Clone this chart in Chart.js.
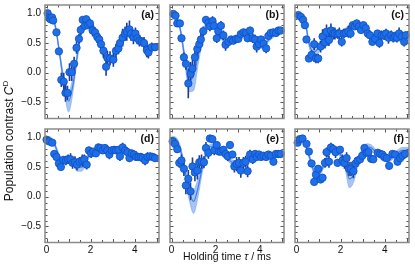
<!DOCTYPE html>
<html lang="en">
<head>
<meta charset="UTF-8">
<title>Population contrast</title>
<script src="https://cdn.jsdelivr.net/npm/chart.js@4.4.1/dist/chart.umd.min.js"></script>
<style>
    body { margin: 0; background: #fff; }
    #wrap { position: relative; width: 415px; height: 276px; background: #fff; font-family: 'Liberation Sans', Arial, sans-serif; }
    #wrap canvas { position: absolute; left: 0; top: 0; }
    .lab { position: absolute; font-weight: bold; font-size: 10.5px; line-height: 12px; text-align: right; width: 30px; color: #111; }
    #ytitle { position: absolute; left: -94px; top: 134px; width: 200px; height: 14px; line-height: 14px; font-size: 12px; text-align: center; transform: rotate(-90deg); color: #111; }
    #xtitle { position: absolute; left: 127px; top: 249px; width: 200px; height: 14px; line-height: 14px; font-size: 10.5px; text-align: center; color: #111; }
</style>
</head>
<body>
<div id="wrap">
    <canvas id="pa" width="415" height="276"></canvas>
    <canvas id="pb" width="415" height="276"></canvas>
    <canvas id="pc" width="415" height="276"></canvas>
    <canvas id="pd" width="415" height="276"></canvas>
    <canvas id="pe" width="415" height="276"></canvas>
    <canvas id="pf" width="415" height="276"></canvas>
    <div id="ytitle">Population contrast <i>C</i><sup style="font-size:8px">D</sup></div>
    <div id="xtitle">Holding time <i>τ</i> / ms</div>
</div>

<script>
// measured points (holding time in ms, contrast, error)
var tA = [0.05,0.12,0.18,0.25,0.3,0.45,0.56,0.67,0.78,0.86,0.95,1.04,1.14,1.25,1.36,1.47,1.55,1.64,1.74,1.8,1.88,1.97,2.09,2.2,2.3,2.39,2.47,2.58,2.7,2.76,2.88,3.03,3.15,3.26,3.33,3.45,3.56,3.64,3.76,3.83,3.94,4.03,4.12,4.21,4.32,4.42,4.55,4.62,4.77,4.92]
var yA = [1.0,0.92,0.9,0.93,0.88,0.68,0.36,-0.12,-0.15,-0.34,-0.34,0.01,0.01,0.15,0.42,0.57,0.72,0.89,0.79,0.9,0.8,0.83,0.71,0.68,0.6,0.56,0.48,0.37,0.1,0.25,0.24,0.22,0.37,0.41,0.5,0.59,0.66,0.69,0.73,0.66,0.6,0.66,0.58,0.54,0.52,0.5,0.38,0.34,0.43,0.43]
var eA = [0.05,0.05,0.06,0.06,0.06,0.05,0.05,0.12,0.15,0.15,0.12,0.15,0.15,0.12,0.1,0.08,0.08,0.05,0.06,0.06,0.06,0.08,0.1,0.08,0.1,0.1,0.1,0.12,0.15,0.12,0.12,0.12,0.12,0.1,0.12,0.15,0.12,0.15,0.15,0.12,0.12,0.1,0.1,0.1,0.08,0.1,0.12,0.1,0.08,0.06]

var tB = [0.08,0.18,0.26,0.38,0.45,0.56,0.65,0.76,0.86,0.95,1.06,1.17,1.26,1.33,1.44,1.56,1.67,1.74,1.86,1.92,2.05,2.12,2.24,2.35,2.45,2.58,2.7,2.8,2.92,3.03,3.14,3.26,3.38,3.45,3.56,3.68,3.79,3.86,3.97,4.06,4.17,4.29,4.39,4.5,4.62,4.74,4.85,4.95]
var yB = [0.99,0.96,0.83,0.83,0.58,0.26,0.15,-0.18,-0.02,0.07,0.26,0.4,0.48,0.56,0.7,0.89,0.84,0.78,0.87,0.79,0.58,0.7,0.79,0.63,0.47,0.52,0.56,0.54,0.57,0.57,0.65,0.68,0.67,0.58,0.71,0.58,0.56,0.44,0.48,0.56,0.49,0.41,0.62,0.67,0.68,0.67,0.71,0.71]
var eB = [0.04,0.05,0.06,0.06,0.06,0.08,0.1,0.25,0.2,0.15,0.15,0.12,0.12,0.1,0.08,0.06,0.08,0.08,0.08,0.06,0.08,0.08,0.08,0.08,0.1,0.06,0.06,0.06,0.06,0.06,0.06,0.06,0.06,0.06,0.06,0.08,0.08,0.1,0.08,0.06,0.08,0.08,0.06,0.06,0.06,0.06,0.06,0.06]

var tC = [0.08,0.2,0.3,0.38,0.45,0.56,0.68,0.8,0.88,0.98,1.09,1.18,1.29,1.36,1.47,1.56,1.67,1.74,1.86,1.94,2.05,2.15,2.24,2.35,2.45,2.55,2.65,2.73,2.83,2.92,3.03,3.14,3.23,3.33,3.44,3.56,3.67,3.76,3.86,3.97,4.06,4.17,4.29,4.39,4.47,4.55,4.65,4.77,4.88,4.95]
var yC = [0.97,0.94,0.89,0.8,0.56,0.24,0.3,0.48,0.24,0.24,0.44,0.61,0.51,0.69,0.55,0.71,0.66,0.66,0.65,0.66,0.52,0.66,0.67,0.69,0.66,0.8,0.78,0.83,0.78,0.72,0.8,0.75,0.66,0.63,0.52,0.57,0.66,0.5,0.63,0.63,0.66,0.59,0.63,0.59,0.61,0.59,0.66,0.61,0.52,0.63]
var eC = [0.04,0.04,0.05,0.05,0.05,0.06,0.08,0.1,0.08,0.08,0.1,0.12,0.1,0.12,0.1,0.12,0.1,0.1,0.08,0.1,0.08,0.08,0.06,0.1,0.08,0.06,0.06,0.06,0.06,0.06,0.06,0.06,0.06,0.06,0.06,0.06,0.06,0.08,0.08,0.08,0.08,0.1,0.08,0.08,0.08,0.08,0.1,0.08,0.08,0.06]

var tD = [0.0,0.12,0.26,0.35,0.45,0.56,0.65,0.76,0.88,0.98,1.09,1.18,1.29,1.38,1.5,1.62,1.71,1.82,1.92,2.02,2.12,2.24,2.35,2.45,2.55,2.65,2.76,2.85,2.95,3.06,3.15,3.26,3.33,3.45,3.56,3.67,3.76,3.86,3.97,4.06,4.17,4.27,4.36,4.47,4.58,4.7,4.82,4.92]
var yD = [0.96,0.93,0.91,0.72,0.67,0.56,0.5,0.62,0.61,0.63,0.63,0.57,0.58,0.54,0.59,0.61,0.63,0.54,0.78,0.73,0.76,0.73,0.83,0.82,0.78,0.82,0.78,0.71,0.78,0.79,0.78,0.79,0.68,0.83,0.78,0.75,0.65,0.73,0.71,0.67,0.67,0.67,0.65,0.61,0.67,0.68,0.67,0.65]
var eD = [0.04,0.05,0.05,0.06,0.06,0.06,0.05,0.06,0.08,0.08,0.1,0.1,0.1,0.1,0.08,0.1,0.08,0.08,0.06,0.08,0.06,0.06,0.06,0.06,0.06,0.06,0.06,0.08,0.06,0.06,0.06,0.06,0.08,0.08,0.06,0.06,0.06,0.06,0.06,0.06,0.06,0.06,0.06,0.08,0.08,0.06,0.06,0.06]

var tE = [0.05,0.15,0.26,0.35,0.45,0.56,0.65,0.76,0.86,0.95,1.06,1.17,1.26,1.36,1.47,1.56,1.67,1.74,1.85,1.94,2.05,2.15,2.24,2.35,2.45,2.55,2.65,2.76,2.85,2.95,3.06,3.14,3.26,3.36,3.45,3.56,3.68,3.79,3.86,3.97,4.06,4.17,4.29,4.39,4.5,4.62,4.73,4.85,4.95]
var yE = [0.93,0.89,0.8,0.57,0.61,0.47,0.19,0.3,0.09,0.51,0.41,0.44,0.58,0.59,0.58,0.82,0.74,0.98,0.97,0.78,0.87,0.76,0.76,0.79,0.72,0.68,0.87,0.71,0.51,0.55,0.57,0.44,0.57,0.59,0.43,0.71,0.63,0.72,0.67,0.71,0.67,0.69,0.67,0.71,0.69,0.59,0.72,0.72,0.72]
var eE = [0.04,0.05,0.06,0.08,0.1,0.12,0.15,0.15,0.15,0.15,0.15,0.15,0.12,0.12,0.1,0.1,0.1,0.06,0.06,0.08,0.06,0.06,0.06,0.06,0.06,0.08,0.06,0.06,0.1,0.12,0.1,0.12,0.1,0.1,0.1,0.08,0.08,0.06,0.06,0.06,0.06,0.06,0.06,0.06,0.06,0.06,0.06,0.06,0.06]

var tF = [0.05,0.15,0.27,0.45,0.56,0.68,0.8,0.88,0.98,1.09,1.18,1.29,1.36,1.47,1.56,1.67,1.77,1.86,1.97,2.08,2.17,2.27,2.38,2.47,2.58,2.68,2.77,2.88,2.98,3.08,3.18,3.26,3.38,3.48,3.68,3.79,3.89,3.98,4.09,4.2,4.35,4.47,4.58,4.7,4.8,4.92]
var yF = [0.91,0.97,0.98,0.89,0.76,0.56,0.25,0.37,0.47,0.29,0.32,0.57,0.75,0.59,0.83,0.8,0.75,0.57,0.79,0.61,0.57,0.65,0.47,0.47,0.43,0.56,0.61,0.63,0.69,0.82,0.74,0.75,0.64,0.63,0.74,0.72,0.71,0.67,0.65,0.52,0.72,0.71,0.59,0.65,0.69,0.72]
var eF = [0.04,0.04,0.04,0.05,0.05,0.06,0.06,0.06,0.06,0.06,0.06,0.08,0.08,0.1,0.08,0.08,0.1,0.06,0.06,0.1,0.1,0.1,0.12,0.12,0.12,0.06,0.06,0.06,0.06,0.06,0.06,0.06,0.06,0.06,0.06,0.06,0.06,0.06,0.06,0.06,0.06,0.06,0.06,0.06,0.06,0.06]

// theory curve: centre and half width of the shaded band
var thT = [0,0.2,0.4,0.6,0.8,1.0,1.2,1.4,1.6,1.8,2.0,2.2,2.4,2.6,2.8,3.0,3.2,3.4,3.6,3.8,4.0,4.2,4.4,4.6,4.8,5.0,5.2]
var thMidA = [1.0,0.97,0.78,0.3,-0.2,-0.48,-0.2,0.3,0.72,0.88,0.85,0.72,0.5,0.3,0.2,0.25,0.38,0.55,0.66,0.7,0.66,0.58,0.5,0.44,0.43,0.46,0.48]
var thWidA = [0.02,0.02,0.03,0.05,0.1,0.18,0.12,0.06,0.04,0.03,0.03,0.04,0.05,0.06,0.06,0.05,0.04,0.04,0.03,0.03,0.03,0.03,0.03,0.03,0.03,0.03,0.03]
var thMidB = [1.0,0.95,0.72,0.25,-0.12,-0.05,0.28,0.6,0.82,0.85,0.75,0.63,0.53,0.5,0.53,0.58,0.63,0.64,0.6,0.5,0.45,0.47,0.55,0.62,0.67,0.72,0.73]
var thWidB = [0.02,0.02,0.04,0.08,0.2,0.25,0.15,0.08,0.04,0.03,0.03,0.03,0.04,0.04,0.03,0.03,0.03,0.03,0.03,0.04,0.04,0.04,0.03,0.03,0.03,0.03,0.03]
var thMidC = [1.0,0.97,0.82,0.45,0.35,0.42,0.52,0.6,0.64,0.66,0.68,0.72,0.77,0.8,0.8,0.75,0.68,0.62,0.6,0.6,0.62,0.63,0.62,0.6,0.58,0.6,0.6]
var thWidC = [0.02,0.02,0.03,0.06,0.08,0.08,0.07,0.06,0.04,0.03,0.03,0.03,0.03,0.03,0.03,0.03,0.03,0.03,0.03,0.03,0.03,0.04,0.05,0.06,0.06,0.05,0.05]
var thMidD = [1.0,0.98,0.85,0.65,0.58,0.6,0.57,0.5,0.5,0.62,0.72,0.77,0.8,0.8,0.79,0.78,0.77,0.76,0.74,0.71,0.69,0.67,0.66,0.65,0.65,0.65,0.65]
var thWidD = [0.02,0.02,0.03,0.04,0.04,0.03,0.04,0.07,0.07,0.05,0.03,0.03,0.03,0.03,0.03,0.03,0.03,0.03,0.03,0.03,0.03,0.03,0.03,0.03,0.03,0.03,0.03]
var thMidE = [1.0,0.97,0.8,0.45,0.1,-0.08,0.15,0.5,0.75,0.85,0.84,0.78,0.7,0.62,0.57,0.56,0.6,0.64,0.68,0.7,0.71,0.71,0.7,0.69,0.7,0.71,0.71]
var thWidE = [0.02,0.03,0.05,0.08,0.15,0.2,0.15,0.08,0.05,0.04,0.03,0.03,0.04,0.04,0.04,0.04,0.03,0.03,0.03,0.03,0.03,0.03,0.03,0.03,0.03,0.03,0.03]
var thMidF = [1.0,0.98,0.88,0.65,0.42,0.38,0.5,0.68,0.78,0.78,0.7,0.55,0.3,0.38,0.6,0.78,0.84,0.82,0.75,0.68,0.62,0.62,0.68,0.74,0.78,0.78,0.78]
var thWidF = [0.02,0.02,0.03,0.04,0.05,0.05,0.04,0.04,0.04,0.04,0.04,0.08,0.15,0.12,0.05,0.05,0.05,0.05,0.04,0.04,0.03,0.03,0.04,0.05,0.05,0.05,0.05]

// axis ticks
var xLabels = [0, 2, 4]
var yLabels = [-0.5, 0, 0.5, 1.0]
var xTickMarks = [0,0.5,1,1.5,2,2.5,3,3.5,4,4.5,5]
var yTickMarks = [-0.7,-0.6,-0.5,-0.4,-0.3,-0.2,-0.1,0,0.1,0.2,0.3,0.4,0.5,0.6,0.7,0.8,0.9,1.0,1.1]

var painelLetras = ['(a)', '(b)', '(c)', '(d)', '(e)', '(f)']
var paineis = [
    { id: 'pa', t: tA, y: yA, e: eA, mid: thMidA, wid: thWidA },
    { id: 'pb', t: tB, y: yB, e: eB, mid: thMidB, wid: thWidB },
    { id: 'pc', t: tC, y: yC, e: eC, mid: thMidC, wid: thWidC },
    { id: 'pd', t: tD, y: yD, e: eD, mid: thMidD, wid: thWidD },
    { id: 'pe', t: tE, y: yE, e: eE, mid: thMidE, wid: thWidE },
    { id: 'pf', t: tF, y: yF, e: eF, mid: thMidF, wid: thWidF }
]

// frame + inward ticks on all four sides
const molduraPlugin = {
    id: 'moldura',
    afterDatasetsDraw(chart) {
        const { ctx, chartArea: a, scales: { x, y } } = chart
        ctx.save()
        ctx.strokeStyle = '#555'
        ctx.lineWidth = 1
        ctx.beginPath()
        xTickMarks.forEach(v => {
            const px = Math.round(x.getPixelForValue(v)) + 0.5
            const len = Number.isInteger(v) ? 3.5 : 2.5
            ctx.moveTo(px, a.bottom); ctx.lineTo(px, a.bottom - len)
            ctx.moveTo(px, a.top); ctx.lineTo(px, a.top + len)
        })
        yTickMarks.forEach(v => {
            const py = Math.round(y.getPixelForValue(v)) + 0.5
            const len = Math.abs(v * 2 - Math.round(v * 2)) < 1e-6 ? 3.5 : 2.5
            ctx.moveTo(a.left, py); ctx.lineTo(a.left + len, py)
            ctx.moveTo(a.right, py); ctx.lineTo(a.right - len, py)
        })
        ctx.stroke()
        ctx.strokeStyle = '#8a8a8a'
        ctx.lineWidth = 1.5
        ctx.strokeRect(a.left, a.top, a.right - a.left, a.bottom - a.top)
        ctx.restore()
    }
}

Chart.defaults.font.family = "'Liberation Sans', Arial, sans-serif"
Chart.defaults.font.size = 10
Chart.defaults.color = '#111'

paineis.forEach((p, i) => {
    const col = i % 3
    const row = Math.floor(i / 3)
    const left = 45 + 125 * col
    const right = left + 114
    const top = 5 + 124 * row
    const bottom = top + 113.5

    const band = thT.map((t, k) => ({ x: t, lo: p.mid[k] - p.wid[k], hi: p.mid[k] + p.wid[k], m: p.mid[k] }))
    const barras = []
    p.t.forEach((t, k) => {
        barras.push({ x: t, y: p.y[k] - p.e[k] })
        barras.push({ x: t, y: p.y[k] + p.e[k] })
        barras.push({ x: t, y: null })
    })

    new Chart(document.getElementById(p.id), {
        type: 'line',
        data: {
            datasets: [
                {
                    label: 'dados',
                    data: p.t.map((t, k) => ({ x: t, y: p.y[k] })),
                    showLine: false,
                    pointRadius: 3.7,
                    pointBackgroundColor: '#1f6fe8',
                    pointBorderColor: '#0d4fc4',
                    pointBorderWidth: 0.8,
                    clip: false,
                    order: 0
                },
                {
                    label: 'erro',
                    data: barras,
                    borderColor: '#1c3c96',
                    borderWidth: 1.6,
                    pointRadius: 0,
                    spanGaps: false,
                    clip: false,
                    order: 1
                },
                {
                    label: 'teoria',
                    data: band.map(b => ({ x: b.x, y: b.m })),
                    borderColor: '#3f7fe6',
                    borderWidth: 1.2,
                    pointRadius: 0,
                    cubicInterpolationMode: 'monotone',
                    order: 2
                },
                {
                    label: 'banda baixo',
                    data: band.map(b => ({ x: b.x, y: b.lo })),
                    borderColor: 'rgba(110,160,240,0.7)',
                    borderWidth: 0.8,
                    pointRadius: 0,
                    cubicInterpolationMode: 'monotone',
                    order: 4
                },
                {
                    label: 'banda cima',
                    data: band.map(b => ({ x: b.x, y: b.hi })),
                    borderColor: 'rgba(110,160,240,0.7)',
                    borderWidth: 0.8,
                    backgroundColor: 'rgba(120,165,240,0.65)',
                    fill: '-1',
                    pointRadius: 0,
                    cubicInterpolationMode: 'monotone',
                    order: 3
                }
            ]
        },
        options: {
            responsive: false,
            animation: false,
            events: [],
            layout: {
                autoPadding: false,
                padding: {
                    left: col == 0 ? 0 : left,
                    right: 415 - right,
                    top: top,
                    bottom: row == 1 ? 276 - bottom - 14 : 276 - bottom
                }
            },
            plugins: { legend: { display: false }, tooltip: { enabled: false } },
            scales: {
                x: {
                    type: 'linear',
                    min: -0.07,
                    max: 5.1,
                    display: row == 1,
                    grid: { display: false, drawTicks: false },
                    border: { display: false },
                    ticks: { autoSkip: false, maxRotation: 0, padding: 2, callback: v => v },
                    afterBuildTicks: s => { s.ticks = xLabels.map(v => ({ value: v })) },
                    afterFit: s => { s.height = row == 1 ? 14 : 0; s.paddingLeft = 0; s.paddingRight = 0 }
                },
                y: {
                    min: -0.77,
                    max: 1.14,
                    display: col == 0,
                    grid: { display: false, drawTicks: false },
                    border: { display: false },
                    ticks: {
                        autoSkip: false,
                        padding: 4,
                        callback: v => (v < 0 ? '\u2212' : '') + Math.abs(v).toFixed(1)
                    },
                    afterBuildTicks: s => { s.ticks = yLabels.map(v => ({ value: v })) },
                    afterFit: s => { s.width = col == 0 ? 45 : 0; s.paddingTop = 0; s.paddingBottom = 0 }
                }
            }
        },
        plugins: [molduraPlugin]
    })

    const lab = document.createElement('div')
    lab.className = 'lab'
    lab.textContent = painelLetras[i]
    lab.style.left = (right - 5 - 30) + 'px'
    lab.style.top = (top + 3) + 'px'
    document.getElementById('wrap').appendChild(lab)
})
</script>
</body>
</html>
